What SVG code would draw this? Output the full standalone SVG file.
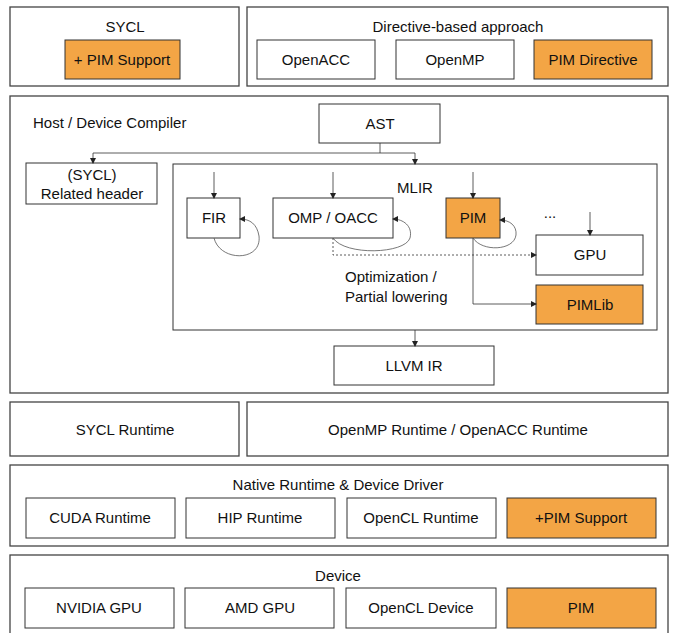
<svg xmlns="http://www.w3.org/2000/svg" width="673" height="633" viewBox="0 0 673 633">
<defs>
<marker id="ah" markerWidth="6" markerHeight="6" refX="5" refY="3" orient="auto" markerUnits="userSpaceOnUse">
<path d="M0,0 L6,3 L0,6 Z" fill="#222"/>
</marker>
<style>
.frame{fill:#fff;stroke:#444;stroke-width:1.3}
.box{fill:#fff;stroke:#333;stroke-width:1}
.org{fill:#F3A545;stroke:#333;stroke-width:1}
.t{font-family:"Liberation Sans",Arial,sans-serif;font-size:15px;fill:#111;text-anchor:middle}
.tl{font-family:"Liberation Sans",Arial,sans-serif;font-size:15px;fill:#111}
.c{fill:none;stroke:#333;stroke-width:0.8}
.cd{fill:none;stroke:#333;stroke-width:0.8;stroke-dasharray:2,2}
.loop{fill:none;stroke:#555;stroke-width:0.8}
</style>
</defs>
<rect width="673" height="633" fill="#fff"/>

<g id="sycl">
<rect class="frame" x="10" y="7" width="229" height="79"/>
<text class="t" x="125" y="32">SYCL</text>
</g>
<g id="pim-support-sycl">
<rect class="org" x="65" y="40" width="115" height="39"/>
<text class="t" x="122" y="65">+ PIM Support</text>
</g>
<g id="directive">
<rect class="frame" x="247" y="7" width="421" height="79"/>
<text class="t" x="458" y="32">Directive-based approach</text>
</g>
<g id="openacc">
<rect class="box" x="257" y="40" width="118" height="39"/>
<text class="t" x="316" y="65">OpenACC</text>
</g>
<g id="openmp">
<rect class="box" x="396" y="40" width="118" height="39"/>
<text class="t" x="455" y="65">OpenMP</text>
</g>
<g id="pim-directive">
<rect class="org" x="534" y="40" width="118" height="39"/>
<text class="t" x="593" y="65">PIM Directive</text>
</g>

<g id="compiler">
<rect class="frame" x="10" y="96" width="658" height="297"/>
<text class="tl" x="33" y="128">Host / Device Compiler</text>
</g>
<g id="ast">
<rect class="box" x="319" y="104" width="121" height="39"/>
<text class="t" x="380" y="129">AST</text>
</g>
<g id="sycl-header">
<rect class="box" x="26" y="163" width="131" height="41"/>
<text class="t" x="92" y="180">(SYCL)</text>
<text class="t" x="92" y="199">Related header</text>
</g>
<g id="mlir">
<rect class="box" x="173" y="164" width="484" height="166"/>
<text class="t" x="415" y="193">MLIR</text>
<text class="t" x="550" y="218">...</text>
<text class="tl" x="345" y="282">Optimization /</text>
<text class="tl" x="345" y="302">Partial lowering</text>
</g>
<g id="fir">
<rect class="box" x="187" y="198" width="53" height="40"/>
<text class="t" x="214" y="223">FIR</text>
</g>
<g id="omp-oacc">
<rect class="box" x="273" y="198" width="120" height="40"/>
<text class="t" x="333" y="223">OMP / OACC</text>
</g>
<g id="pim-mlir">
<rect class="org" x="446" y="198" width="54" height="40"/>
<text class="t" x="473" y="223">PIM</text>
</g>
<g id="gpu">
<rect class="box" x="536" y="235" width="107" height="40"/>
<text class="t" x="590" y="260">GPU</text>
</g>
<g id="pimlib">
<rect class="org" x="536" y="285" width="107" height="39"/>
<text class="t" x="590" y="310">PIMLib</text>
</g>
<g id="llvm-ir">
<rect class="box" x="334" y="346" width="160" height="39"/>
<text class="t" x="414" y="371">LLVM IR</text>
</g>

<g id="sycl-runtime">
<rect class="frame" x="10" y="402" width="229" height="54"/>
<text class="t" x="125" y="435">SYCL Runtime</text>
</g>
<g id="omp-runtime">
<rect class="frame" x="247" y="402" width="421" height="54"/>
<text class="t" x="458" y="435">OpenMP Runtime / OpenACC Runtime</text>
</g>

<g id="native">
<rect class="frame" x="10" y="465" width="658" height="81"/>
<text class="t" x="338" y="490">Native Runtime &amp; Device Driver</text>
</g>
<g id="cuda">
<rect class="box" x="26" y="498" width="149" height="40"/>
<text class="t" x="100" y="523">CUDA Runtime</text>
</g>
<g id="hip">
<rect class="box" x="186" y="498" width="149" height="40"/>
<text class="t" x="260" y="523">HIP Runtime</text>
</g>
<g id="opencl-runtime">
<rect class="box" x="347" y="498" width="149" height="40"/>
<text class="t" x="421" y="523">OpenCL Runtime</text>
</g>
<g id="pim-support-native">
<rect class="org" x="507" y="498" width="149" height="40"/>
<text class="t" x="581" y="523">+PIM Support</text>
</g>

<g id="device">
<rect class="frame" x="10" y="555" width="658" height="84"/>
<text class="t" x="338" y="581">Device</text>
</g>
<g id="nvidia">
<rect class="box" x="25" y="588" width="149" height="40"/>
<text class="t" x="99" y="613">NVIDIA GPU</text>
</g>
<g id="amd">
<rect class="box" x="185" y="588" width="149" height="40"/>
<text class="t" x="260" y="613">AMD GPU</text>
</g>
<g id="opencl-device">
<rect class="box" x="346" y="588" width="150" height="40"/>
<text class="t" x="421" y="613">OpenCL Device</text>
</g>
<g id="pim-device">
<rect class="org" x="507" y="588" width="149" height="40"/>
<text class="t" x="581" y="613">PIM</text>
</g>

<g id="connectors">
<path class="c" d="M380,143 V153"/>
<path class="c" d="M93,153 H415"/>
<path class="c" d="M93,153 V163" marker-end="url(#ah)"/>
<path class="c" d="M415,153 V164" marker-end="url(#ah)"/>
<path class="c" d="M214,172 V198" marker-end="url(#ah)"/>
<path class="c" d="M333,172 V198" marker-end="url(#ah)"/>
<path class="c" d="M473,172 V198" marker-end="url(#ah)"/>
<path class="c" d="M590,212 V235" marker-end="url(#ah)"/>
<path class="cd" d="M333,238 V255 H536" marker-end="url(#ah)"/>
<path class="c" d="M473,238 V304 H536" marker-end="url(#ah)"/>
<path class="c" d="M415,330 V346" marker-end="url(#ah)"/>
<path class="loop" d="M214,238 C220,262 262,262 259,236 C257,224 250,219 240,219" marker-end="url(#ah)"/>
<path class="loop" d="M333,238 C345,256 405,254 410,238 C413,226 403,219 393,219" marker-end="url(#ah)"/>
<path class="loop" d="M473,238 C482,252 514,251 516,235 C517,226 510,220 500,220" marker-end="url(#ah)"/>
</g>
</svg>
